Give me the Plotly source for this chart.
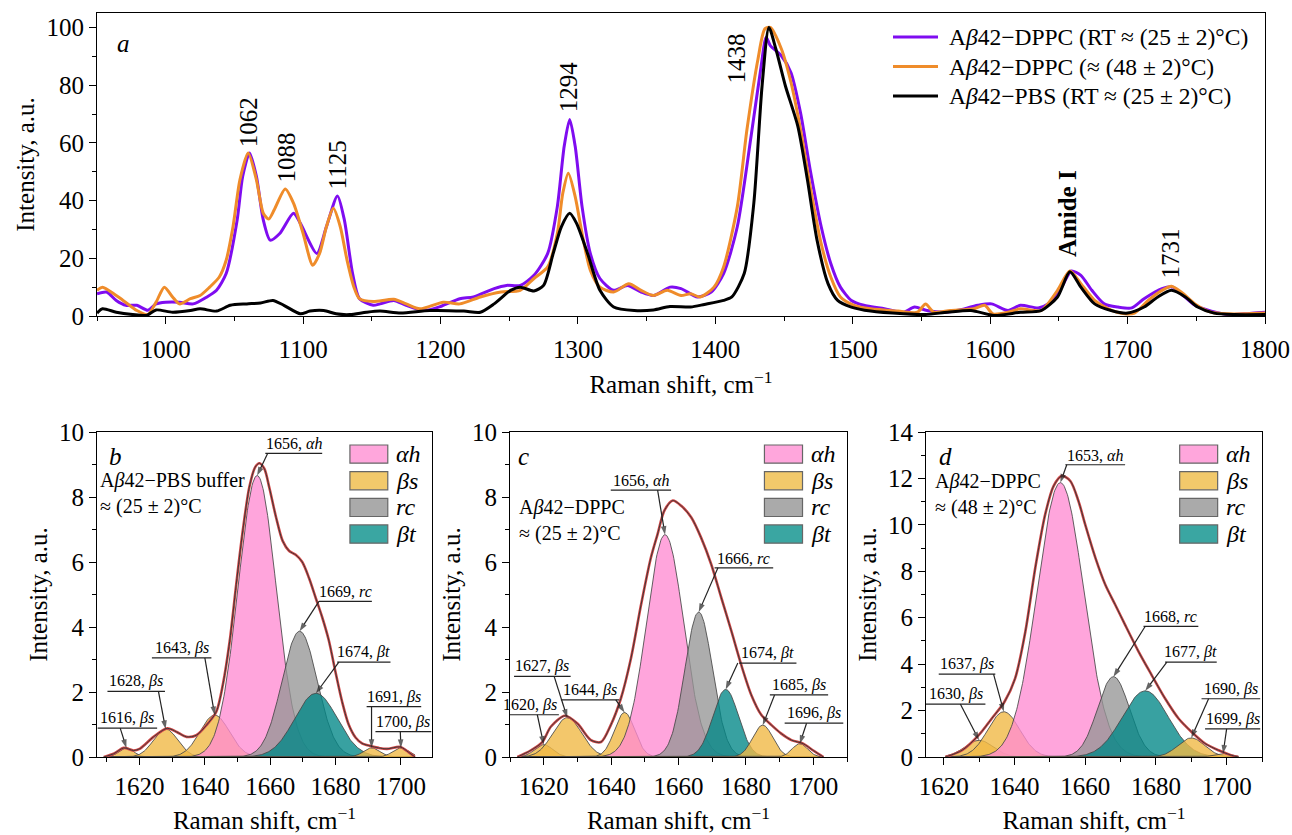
import numpy as np
import plotly.graph_objects as go

# ====================== DATA ======================
# Panel a: Raman spectra (Raman shift, cm-1  /  intensity, a.u.)
dppc_rt_x = [950, 957, 964, 971, 979, 987, 993, 1000, 1010, 1020, 1030, 1037, 1044, 1052, 1056, 1061,
             1066, 1071, 1076, 1083, 1093, 1098, 1110, 1117, 1125, 1130, 1136, 1141, 1151, 1156, 1166,
             1175, 1188, 1200, 1214, 1224, 1239, 1248, 1258, 1268, 1278, 1285, 1290, 1294, 1298, 1303,
             1309, 1316, 1326, 1336, 1346, 1355, 1367, 1375, 1387, 1397, 1406, 1416, 1426, 1433, 1437,
             1440, 1448, 1455, 1462, 1469, 1477, 1484, 1491, 1499, 1508, 1523, 1537, 1545, 1554, 1567,
             1576, 1591, 1601, 1613, 1622, 1635, 1642, 1652, 1659, 1666, 1674, 1683, 1693, 1703, 1712,
             1725, 1733, 1739, 1749, 1761, 1773, 1785, 1800]
dppc_rt_y = [7.7, 8.3, 5.4, 3.7, 3.7, 2.0, 4.2, 4.8, 4.8, 4.2, 6.6, 8.9, 14.7, 33.3, 48.4, 56.5,
             48.4, 33.3, 26.3, 28.6, 35.6, 32.1, 21.7, 31.0, 41.6, 33.3, 14.7, 6.0, 3.7, 4.2, 5.4,
             3.7, 1.9, 3.3, 6.0, 6.6, 9.5, 10.6, 10.6, 14.1, 21.7, 37.9, 58.8, 68.1, 58.8, 37.9,
             21.7, 13.0, 8.9, 10.6, 8.3, 7.1, 10.0, 9.5, 6.6, 8.3, 14.7, 31.0, 62.3, 85.5, 96.6,
             93.7, 90.2, 84.4, 70.4, 50.7, 31.0, 18.2, 10.0, 5.4, 3.7, 2.5, 1.3, 3.1, 1.9, 1.3,
             1.9, 3.7, 4.2, 1.9, 3.7, 2.8, 4.2, 10.0, 15.6, 14.1, 8.9, 4.2, 3.1, 2.8, 6.0,
             9.5, 10.0, 7.7, 3.7, 1.7, 0.5, 0.75, 1.3]

dppc_48_x = [950, 954, 969, 979, 987, 993, 999, 1005, 1010, 1018, 1025, 1032, 1039, 1044, 1049, 1054,
             1060, 1066, 1071, 1075, 1079, 1087, 1093, 1100, 1107, 1112, 1117, 1122, 1127, 1132, 1137,
             1141, 1151, 1166, 1175, 1185, 1202, 1214, 1229, 1244, 1258, 1268, 1278, 1285, 1289, 1293,
             1298, 1303, 1309, 1316, 1326, 1337, 1346, 1355, 1365, 1375, 1382, 1389, 1399, 1406, 1416,
             1423, 1431, 1436, 1440, 1448, 1455, 1462, 1469, 1477, 1484, 1491, 1501, 1513, 1533, 1547,
             1553, 1559, 1571, 1588, 1596, 1602, 1613, 1622, 1637, 1649, 1658, 1666, 1676, 1686, 1698,
             1705, 1715, 1725, 1732, 1739, 1749, 1761, 1773, 1785, 1800]
dppc_48_y = [8.9, 10.0, 5.4, 1.9, 0.5, 4.8, 10.0, 6.6, 4.2, 6.0, 7.1, 10.0, 13.5, 19.3, 31.0, 47.2,
             56.5, 47.2, 35.6, 33.6, 36.8, 44.0, 39.1, 28.6, 17.6, 21.7, 31.0, 37.3, 31.0, 19.3, 10.0,
             6.0, 5.0, 5.8, 4.2, 2.5, 4.8, 4.2, 6.6, 8.3, 8.9, 13.0, 17.0, 28.6, 42.6, 49.5,
             41.4, 28.6, 15.9, 10.0, 8.3, 11.2, 8.9, 7.1, 8.9, 7.1, 7.7, 6.6, 10.0, 17.0, 37.9,
             64.6, 89.0, 99.5, 100.0, 92.6, 81.0, 64.6, 44.9, 25.1, 13.5, 6.6, 3.7, 2.5, 1.7, 1.3,
             4.2, 1.3, 1.9, 2.5, 3.7, 0.75, 1.3, 2.5, 1.9, 8.9, 15.6, 11.2, 5.4, 2.5, 0.75,
             1.0, 5.4, 8.9, 10.3, 8.3, 4.2, 1.3, 0.75, 0.75, 1.0]

pbs_x = [950, 954, 964, 976, 986, 993, 1005, 1018, 1025, 1037, 1047, 1059, 1069, 1078, 1086, 1098,
         1105, 1115, 1124, 1134, 1146, 1156, 1171, 1192, 1217, 1229, 1239, 1251, 1258, 1268, 1275,
         1282, 1288, 1294, 1299, 1307, 1316, 1326, 1341, 1355, 1367, 1382, 1392, 1406, 1412, 1421,
         1428, 1434, 1439, 1444, 1451, 1460, 1467, 1474, 1482, 1489, 1499, 1513, 1537, 1552, 1569,
         1586, 1603, 1622, 1637, 1649, 1658, 1666, 1676, 1688, 1700, 1712, 1722, 1732, 1742, 1751,
         1763, 1778, 1800]
pbs_y = [1.0, 2.5, 1.3, 0.5, 0.2, 2.1, 1.3, 1.9, 2.5, 1.7, 3.7, 4.2, 4.5, 5.4, 3.7, 0.75,
         1.7, 1.9, 0.75, 0.5, 1.3, 1.7, 1.0, 1.9, 1.7, 1.3, 4.2, 8.9, 10.0, 8.7, 10.6,
         21.7, 31.0, 35.6, 32.1, 21.7, 8.9, 3.1, 1.9, 2.1, 3.3, 3.1, 4.0, 5.4, 6.6, 14.7,
         39.1, 79.7, 100.0, 92.6, 79.7, 65.8, 47.2, 26.3, 11.2, 5.4, 3.1, 1.7, 0.75, 0.5, 1.3,
         1.9, 0.2, 1.3, 1.9, 6.6, 15.3, 10.0, 4.2, 1.9, 1.0, 3.1, 6.6, 8.9, 6.6, 3.1,
         1.0, 0.5, 0.5]

series_names = ["A<i>β</i>42−DPPC (RT ≈ (25 ± 2)°C)",
                "A<i>β</i>42−DPPC (≈ (48 ± 2)°C)",
                "A<i>β</i>42−PBS (RT ≈ (25 ± 2)°C)"]
peak_labels = ["1062", "1088", "1125", "1294", "1438", "<b>Amide I</b>", "1731"]

# Amide I band decomposition: measured envelope + fitted Gaussian components
comp_types = ["αh", "βs", "rc", "βt"]

b_env_x = [1609.1, 1612.1, 1615.2, 1618.2, 1620.2, 1624.3, 1628.5, 1631.4, 1634.4, 1637.4, 1640.5,
           1643.5, 1645.5, 1647.6, 1649.6, 1651.6, 1653.6, 1655.4, 1656.7, 1658.2, 1659.7, 1661.8,
           1663.8, 1665.8, 1667.8, 1669.8, 1671.9, 1673.9, 1675.9, 1677.9, 1680.0, 1682.0, 1684.0,
           1686.1, 1688.1, 1690.6, 1693.2, 1695.7, 1699.8, 1702.3, 1704.3]
b_env_y = [0.0, 0.1, 0.28, 0.2, 0.26, 0.62, 0.88, 0.77, 0.62, 0.67, 0.98,
           1.39, 2.22, 3.56, 5.31, 6.96, 8.3, 8.92, 9.04, 8.87, 8.3, 7.37,
           6.65, 6.34, 6.22, 6.0, 5.5, 4.9, 4.3, 3.6, 2.6, 1.7, 1.0,
           0.6, 0.42, 0.34, 0.28, 0.25, 0.31, 0.15, 0.0]
b_centers = [1616, 1628, 1643, 1656, 1669, 1674, 1691, 1700]
b_heights = [0.28, 0.86, 1.29, 8.66, 3.87, 1.96, 0.28, 0.28]
b_sigmas = [2.2, 3.7, 4.5, 5.8, 5.4, 6.5, 2.5, 2.5]
b_kinds = ["βs", "βs", "βs", "αh", "rc", "βt", "βs", "βs"]

c_env_x = [1612.2, 1616.1, 1619.6, 1622.1, 1626.3, 1630.0, 1634.0, 1637.0, 1639.9, 1642.9, 1645.9,
           1648.9, 1651.8, 1653.8, 1655.8, 1658.3, 1660.8, 1663.8, 1666.7, 1669.7, 1672.7, 1675.7,
           1678.6, 1681.6, 1684.6, 1687.6, 1690.5, 1693.5, 1697.0, 1700.0, 1703.0]
c_env_y = [0.0, 0.2, 0.46, 0.93, 1.27, 1.03, 0.52, 0.46, 0.98, 1.8, 3.04,
           4.69, 6.13, 6.86, 7.58, 7.89, 7.73, 7.37, 6.75, 5.93, 4.9, 3.87,
           2.84, 1.91, 1.29, 0.98, 0.72, 0.52, 0.41, 0.2, 0.0]
c_centers = [1620, 1627, 1644, 1656, 1666, 1674, 1685, 1696]
c_heights = [0.38, 1.21, 1.37, 6.84, 4.46, 2.08, 0.98, 0.41]
c_sigmas = [2.7, 4.3, 3.0, 5.5, 4.1, 3.8, 3.0, 2.3]
c_kinds = ["βs", "βs", "βs", "αh", "rc", "βt", "βs", "βs"]

d_env_x = [1620.5, 1625.2, 1629.9, 1633.6, 1637.2, 1640.2, 1643.1, 1645.9, 1648.7, 1651.1, 1653.4,
           1655.8, 1658.1, 1660.0, 1662.9, 1665.7, 1668.5, 1671.3, 1675.1, 1678.8, 1682.6, 1686.4,
           1690.1, 1693.9, 1697.7, 1701.4, 1703.3]
d_env_y = [0.0, 0.29, 0.94, 1.66, 2.38, 3.39, 5.41, 8.15, 10.45, 11.68, 12.11,
           11.89, 11.03, 10.02, 8.58, 7.42, 6.56, 5.69, 4.54, 3.53, 2.52, 1.66,
           1.08, 0.58, 0.29, 0.07, 0.0]
d_centers = [1630, 1637, 1653, 1668, 1677, 1690, 1699]
d_heights = [0.72, 1.95, 11.82, 3.46, 2.85, 0.82, 0.15]
d_sigmas = [4.0, 4.5, 6.6, 4.5, 6.5, 3.8, 2.5]
d_kinds = ["βs", "βs", "αh", "rc", "βt", "βs", "βs"]

sample_texts = ["A<i>β</i>42−PBS buffer<br>≈ (25 ± 2)°C",
                "A<i>β</i>42−DPPC<br>≈ (25 ± 2)°C",
                "A<i>β</i>42−DPPC<br>≈ (48 ± 2)°C"]
panel_letters = ["a", "b", "c", "d"]

# ====================== STYLE / LAYOUT ======================
FONT = "Liberation Serif"
W, H = 1292, 835
line_colors = ["#7f0cf0", "#ef8c2a", "#000000"]
fill_colors = {"αh": "rgba(255,140,210,0.78)", "βs": "rgba(240,185,70,0.8)",
               "rc": "rgba(150,150,150,0.78)", "βt": "rgba(0,135,135,0.78)"}
swatch_colors = {"αh": "#ffa6dc", "βs": "#f2c96b", "rc": "#aaaaaa", "βt": "#3aa6a2"}

dom_top_x = [97 / W, 1265 / W]
dom_top_y = [1 - 316 / H, 1 - 13 / H]
dom_bot_y = [1 - 757 / H, 1 - 432 / H]
dom_b_x = [97 / W, 432 / W]
dom_c_x = [510 / W, 847 / W]
dom_d_x = [926 / W, 1262 / W]

# legend rows of panel a (pixel rows from top)
legend_rows = [37, 66.5, 96]

# label positions (data coords of panel a)
peak_label_pos = [(1060.1, 67.2), (1088, 54.8), (1124.9, 52.3), (1293.2, 79.5),
                  (1415.2, 89.3), (1655.8, 35.6), (1731.3, 21.5)]

# component label placement: (x0, x1, line_y, tail_x) per component
b_lab = [(1607.2, 1625.4, 0.89, 1614.1), (1610.2, 1627.8, 2.02, 1625.8), (1623.8, 1642.0, 3.05, 1640.0),
         (1658.5, 1675.9, 9.34, 1659.2), (1674.9, 1691.1, 4.79, 1674.9), (1680.5, 1696.8, 2.92, 1681.0),
         (1689.5, 1706.2, 1.55, 1691.0), (1692.2, 1709.3, 0.78, 1699.8)]
c_lab = [(1607.2, 1624.5, 1.30, 1618.1), (1611.2, 1628.0, 2.48, 1623.1), (1625.1, 1642.4, 1.76, 1641.4),
         (1639.9, 1657.8, 8.21, 1653.8), (1670.7, 1688.1, 5.82, 1671.7), (1678.0, 1695.0, 2.89, 1677.6),
         (1687.1, 1704.4, 1.91, 1688.5), (1691.5, 1708.9, 1.04, 1698.0)]
d_lab = [(1614.9, 1631.8, 2.28, 1624.7), (1618.6, 1634.6, 3.57, 1634.1), (1654.4, 1671.3, 12.59, 1654.8),
         (1676.5, 1692.0, 5.63, 1677.0), (1682.6, 1697.2, 4.09, 1683.1), (1692.9, 1709.5, 2.51, 1694.9),
         (1693.9, 1709.5, 1.21, 1700.0)]

fig = go.Figure()
annotations = []
shapes = []

# ---- panel a ----
for i, (xs, ys, nm, col) in enumerate(zip([dppc_rt_x, dppc_48_x, pbs_x], [dppc_rt_y, dppc_48_y, pbs_y],
                                          series_names, line_colors)):
    fig.add_trace(go.Scatter(x=xs, y=ys, mode="lines", name=nm, showlegend=False,
                             line=dict(color=col, width=3, shape="spline", smoothing=0.7),
                             xaxis="x", yaxis="y"))
    ry = 1 - legend_rows[i] / H
    shapes.append(dict(type="line", xref="paper", yref="paper", x0=893 / W, x1=938 / W,
                       y0=ry, y1=ry, line=dict(color=col, width=3.2)))
    annotations.append(dict(x=947 / W, y=ry, xref="paper", yref="paper", xanchor="left",
                            yanchor="middle", text=nm, showarrow=False,
                            font=dict(family=FONT, size=23.5, color="black")))

for txt, (lx, ly) in zip(peak_labels, peak_label_pos):
    annotations.append(dict(x=lx, y=ly, xref="x", yref="y", text=txt, showarrow=False,
                            textangle=-90, xanchor="center", yanchor="middle",
                            font=dict(family=FONT, size=25, color="black")))

# ---- panels b, c, d ----
panels = [
    ("x2", "y2", b_env_x, b_env_y, b_centers, b_heights, b_sigmas, b_kinds, b_lab),
    ("x3", "y3", c_env_x, c_env_y, c_centers, c_heights, c_sigmas, c_kinds, c_lab),
    ("x4", "y4", d_env_x, d_env_y, d_centers, d_heights, d_sigmas, d_kinds, d_lab),
]
for pi, (xa, ya, ex, ey, cs, hs, ss, ks, labs) in enumerate(panels):
    grid = np.linspace(min(ex), max(ex), 400)
    for c, h, s, k in zip(cs, hs, ss, ks):
        yv = h * np.exp(-0.5 * ((grid - c) / s) ** 2)
        fig.add_trace(go.Scatter(x=grid, y=yv, mode="lines", fill="tozeroy",
                                 fillcolor=fill_colors[k], name=k, showlegend=False,
                                 line=dict(color="rgba(70,70,70,0.85)", width=1),
                                 xaxis=xa, yaxis=ya))
    fig.add_trace(go.Scatter(x=ex, y=ey, mode="lines", showlegend=False, name="envelope",
                             line=dict(color="#d24545", width=2.6, shape="spline", smoothing=0.8),
                             xaxis=xa, yaxis=ya))
    fig.add_trace(go.Scatter(x=ex, y=ey, mode="lines", showlegend=False, name="fit",
                             line=dict(color="#3a3a3a", width=1, shape="spline", smoothing=0.8),
                             xaxis=xa, yaxis=ya))
    # component labels with underline and arrow
    for c, h, k, (x0, x1, ly, tx) in zip(cs, hs, ks, labs):
        shapes.append(dict(type="line", xref=xa, yref=ya, x0=x0, x1=x1, y0=ly, y1=ly,
                           line=dict(color="#222", width=1.2)))
        annotations.append(dict(x=(x0 + x1) / 2, y=ly, xref=xa, yref=ya, yanchor="bottom",
                                xanchor="center", text=f"{c}, <i>{k}</i>", showarrow=False,
                                yshift=-1, font=dict(family=FONT, size=16, color="black")))
        fig.add_trace(go.Scatter(x=[tx, c], y=[ly, h], mode="lines+markers", showlegend=False,
                                 hoverinfo="skip", line=dict(color="#222", width=1.2),
                                 marker=dict(symbol="arrow", size=[0, 9], angleref="previous",
                                             color="#222", line=dict(width=0)),
                                 xaxis=xa, yaxis=ya))
    # manual legend
    xd = f"{xa} domain"
    yd = f"{ya} domain"
    box_tops = [0.960, 0.878, 0.796, 0.714]
    for k, yt in zip(comp_types, box_tops):
        shapes.append(dict(type="rect", xref=xd, yref=yd, x0=0.755, x1=0.868, y0=yt - 0.056, y1=yt,
                           fillcolor=swatch_colors[k], line=dict(color="#666", width=1.2)))
        annotations.append(dict(x=0.888, y=yt - 0.028, xref=xd, yref=yd, xanchor="left",
                                yanchor="middle", text=f"<i>{k}</i>", showarrow=False,
                                font=dict(family=FONT, size=24, color="black")))
    # sample description
    sy = [0.811, 0.727, 0.807][pi]
    sx = [0.004, 0.02, 0.021][pi]
    annotations.append(dict(x=sx, y=sy, xref=xd, yref=yd, xanchor="left", yanchor="middle",
                            align="left", text=sample_texts[pi], showarrow=False,
                            font=dict(family=FONT, size=20, color="black")))
    annotations.append(dict(x=[0.054, 0.039, 0.057][pi], y=0.924, xref=xd, yref=yd,
                            xanchor="center", yanchor="middle",
                            text=f"<i>{panel_letters[pi + 1]}</i>", showarrow=False,
                            font=dict(family=FONT, size=25, color="black")))

annotations.append(dict(x=0.0225, y=0.898, xref="x domain", yref="y domain",
                        xanchor="center", yanchor="middle",
                        text=f"<i>{panel_letters[0]}</i>", showarrow=False,
                        font=dict(family=FONT, size=25, color="black")))

tickfont = dict(family=FONT, size=25, color="black")
titlefont = dict(family=FONT, size=25, color="black")


def xax(dom, rng, dtick, minor, anchor, title, standoff, labstand):
    return dict(domain=dom, range=rng, dtick=dtick, tick0=0, ticks="outside", ticklen=7,
                tickwidth=1.2, tickcolor="black", showline=True, linecolor="black", linewidth=1.2,
                mirror=True, showgrid=False, zeroline=False, anchor=anchor, tickfont=tickfont,
                ticklabelstandoff=labstand,
                minor=dict(dtick=minor, ticks="outside", ticklen=4, tickwidth=1, tickcolor="black",
                           showgrid=False),
                title=dict(text=title, font=titlefont, standoff=standoff), automargin=False)


def yax(dom, rng, dtick, minor, anchor, title):
    return dict(domain=dom, range=rng, dtick=dtick, tick0=0, ticks="outside", ticklen=7,
                tickwidth=1.2, tickcolor="black", showline=True, linecolor="black", linewidth=1.2,
                mirror=True, showgrid=False, zeroline=False, anchor=anchor, tickfont=tickfont,
                minor=dict(dtick=minor, ticks="outside", ticklen=4, tickwidth=1, tickcolor="black",
                           showgrid=False),
                title=dict(text=title, font=titlefont, standoff=4), automargin=False)


xt = "Raman shift, cm<sup>−1</sup>"
yt = "Intensity, a.u."
fig.update_layout(
    width=W, height=H, margin=dict(l=0, r=0, t=0, b=0),
    paper_bgcolor="white", plot_bgcolor="white",
    font=dict(family=FONT, color="black"),
    showlegend=False,
    xaxis=xax(dom_top_x, [950, 1800], 100, 50, "y", xt, 13, 4),
    yaxis=yax(dom_top_y, [0, 105], 20, 10, "x", yt),
    xaxis2=xax(dom_b_x, [1607, 1709.5], 20, 10, "y2", xt, 12, 0),
    yaxis2=yax(dom_bot_y, [0, 10], 2, 1, "x2", yt),
    xaxis3=xax(dom_c_x, [1610, 1710], 20, 10, "y3", xt, 12, 0),
    yaxis3=yax(dom_bot_y, [0, 10], 2, 1, "x3", yt),
    xaxis4=xax(dom_d_x, [1615, 1710], 20, 10, "y4", xt, 12, 0),
    yaxis4=yax(dom_bot_y, [0, 14], 2, 1, "x4", yt),
    annotations=annotations, shapes=shapes,
)

fig.write_html("out.html", config={"displayModeBar": False},
               post_script="document.body.style.margin='0px';")
